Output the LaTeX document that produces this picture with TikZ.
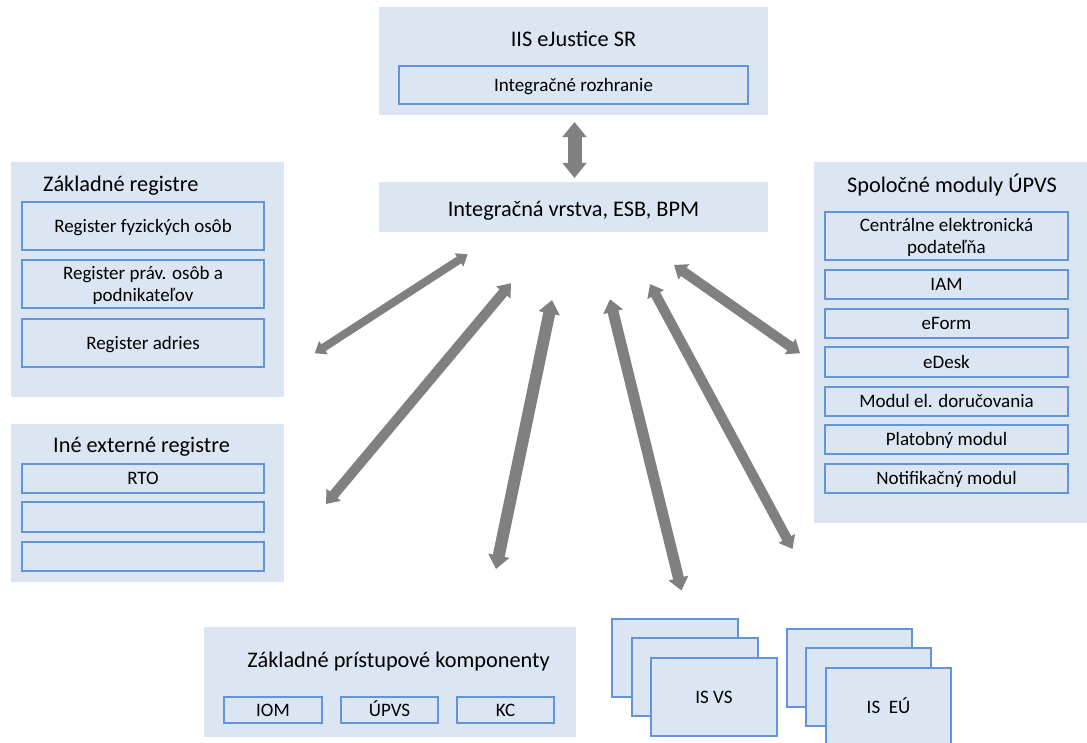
\documentclass[tikz,border=0pt]{standalone}
\usepackage{fontspec}
\setmainfont{Carlito}
\usetikzlibrary{arrows.meta}
\definecolor{panelfill}{HTML}{DCE6F2}
\definecolor{cellline}{RGB}{98,148,218}
\definecolor{arrowgray}{HTML}{808080}
\tikzset{
  panel/.style={fill=panelfill, draw=none, anchor=north west, inner sep=0pt, outer sep=0pt},
  cell/.style={fill=panelfill, draw=cellline, line width=1.6pt, anchor=north west, inner sep=0pt, outer sep=0pt, align=center, font=\fontsize{19}{22.5}\selectfont, text height=12.6pt, text depth=0pt},
  twoline/.style={text height=35.1pt, text depth=0pt},
  ptitle/.style={anchor=base, inner sep=0pt, font=\fontsize{22.3}{26}\selectfont},
  blockarrow/.style={draw=arrowgray, line width=#1, {Triangle[length=4pt 0.8, width=4pt 1.4]}-{Triangle[length=4pt 0.8, width=4pt 1.4]}}
}
\begin{document}
\begin{tikzpicture}[x=1pt,y=-1pt]
\useasboundingbox (0,0) rectangle (1087,742);

% IIS eJustice SR
\node[panel, minimum width=389pt, minimum height=108pt] (iis) at (379,7) {};
\node[ptitle] (iist) at (573.5,46) {IIS eJustice SR};
\node[cell, minimum width=349pt, minimum height=38pt] (ir) at (399,66) {Integračné rozhranie};

% Integracna vrstva
\node[panel, minimum width=389pt, minimum height=50pt] (iv) at (379,182) {};
\node[ptitle] (ivt) at (573.5,216) {Integračná vrstva, ESB, BPM};

% Zakladne registre
\node[panel, minimum width=273pt, minimum height=235pt] (zr) at (11,162) {};
\node[ptitle, anchor=base west] (zrt) at (43,191) {Základné registre};
\node[cell, minimum width=242pt, minimum height=48pt] (rfo) at (22,202) {Register fyzických osôb};
\node[cell, twoline, minimum width=242pt, minimum height=48pt] (rpo) at (22,260) {Register práv. osôb a\\podnikateľov};
\node[cell, minimum width=242pt, minimum height=48pt] (ra) at (22,319) {Register adries};

% Ine externe registre
\node[panel, minimum width=273pt, minimum height=158pt] (ier) at (11,424) {};
\node[ptitle] (iert) at (141.5,452) {Iné externé registre};
\node[cell, minimum width=242pt, minimum height=29pt] (rto) at (22,464) {RTO};
\node[cell, minimum width=242pt, minimum height=30pt] (e1) at (22,502) {};
\node[cell, minimum width=242pt, minimum height=29pt] (e2) at (22,542) {};

% Spolocne moduly UPVS
\node[panel, minimum width=273pt, minimum height=361pt] (sm) at (814,162) {};
\node[ptitle] (smt) at (952,192) {Spoločné moduly ÚPVS};
\node[cell, twoline, minimum width=243pt, minimum height=48pt] (cep) at (825,212) {Centrálne elektronická\\podateľňa};
\node[cell, minimum width=243pt, minimum height=29pt] (iam) at (825,270) {IAM};
\node[cell, minimum width=243pt, minimum height=29pt] (eform) at (825,309) {eForm};
\node[cell, minimum width=243pt, minimum height=30pt] (edesk) at (825,347) {eDesk};
\node[cell, minimum width=243pt, minimum height=29pt] (med) at (825,387) {Modul el. doručovania};
\node[cell, minimum width=243pt, minimum height=29pt] (pm) at (825,425) {Platobný modul};
\node[cell, minimum width=243pt, minimum height=29pt] (nm) at (825,464) {Notifikačný modul};

% Zakladne pristupove komponenty
\node[panel, minimum width=372pt, minimum height=110pt] (zpk) at (204,627) {};
\node[ptitle] (zpkt) at (398.5,667) {Základné prístupové komponenty};
\node[cell, minimum width=98pt, minimum height=26pt] (iom) at (224,697) {IOM};
\node[cell, minimum width=97pt, minimum height=26pt] (upvs) at (341,697) {ÚPVS};
\node[cell, minimum width=97pt, minimum height=26pt] (kc) at (457,697) {KC};

% IS VS stack
\node[cell, minimum width=126pt, minimum height=78pt] (isvs1) at (612,619) {};
\node[cell, minimum width=126pt, minimum height=78pt] (isvs2) at (632,638) {};
\node[cell, minimum width=126pt, minimum height=78pt] (isvs) at (651,658) {IS VS};

% IS EU stack
\node[cell, minimum width=125pt, minimum height=78pt] (iseu1) at (787,629) {};
\node[cell, minimum width=125pt, minimum height=78pt] (iseu2) at (806,648) {};
\node[cell, minimum width=125pt, minimum height=78pt] (iseu) at (826,668) {IS\ \ EÚ};

% arrow end points
\coordinate (v1) at (574.5,122);
\coordinate (v2) at (574.5,178);
\coordinate (a1) at (314.7,353.3);
\coordinate (a2) at (467.7,254.3);
\coordinate (b1) at (326,504);
\coordinate (b2) at (511,283.3);
\coordinate (c1) at (496,569);
\coordinate (c2) at (552,300);
\coordinate (d1) at (681.5,590.5);
\coordinate (d2) at (610,299.3);
\coordinate (e1a) at (792.5,549);
\coordinate (e2a) at (650,284);
\coordinate (f1) at (800,353.3);
\coordinate (f2) at (674,265);

\draw[blockarrow=14pt] (v1) -- (v2);
\draw[blockarrow=8pt] (a1) -- (a2);
\draw[blockarrow=10pt] (b1) -- (b2);
\draw[blockarrow=12pt] (c1) -- (c2);
\draw[blockarrow=11pt] (d1) -- (d2);
\draw[blockarrow=10pt] (e1a) -- (e2a);
\draw[blockarrow=10pt] (f1) -- (f2);
\end{tikzpicture}
\end{document}
